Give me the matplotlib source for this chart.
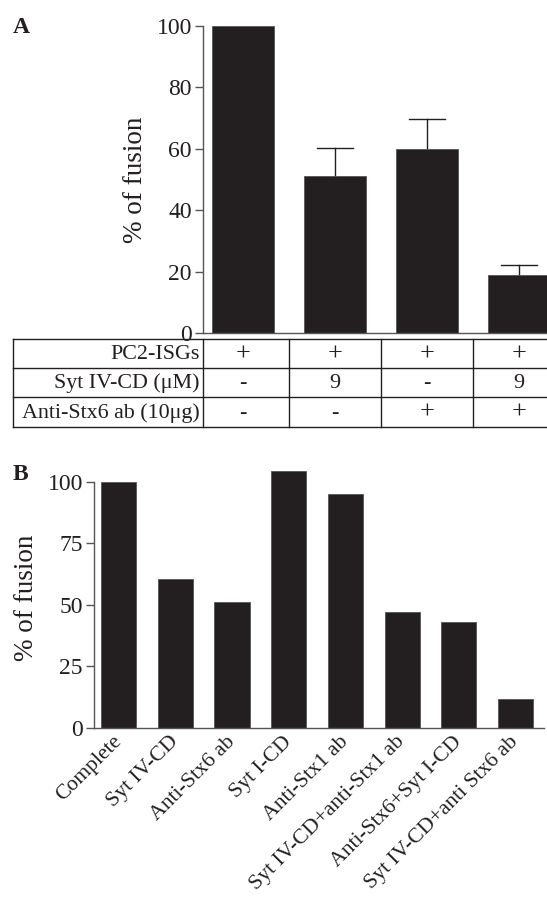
import matplotlib
matplotlib.use("Agg")
import matplotlib.pyplot as plt
import numpy as np

plt.rcParams['font.family'] = ['Liberation Serif', 'DejaVu Serif']

dark = '#231f20'

# panel A data
a_values = [100, 51.1, 60.0, 18.8]
a_errors = [0, 9.1, 9.6, 3.2]
row_labels = ['PC2-ISGs', 'Syt IV-CD (\u03bcM)', 'Anti-Stx6 ab (10\u03bcg)']
row_cells = [['+', '+', '+', '+'],
             ['-', '9', '-', '9'],
             ['-', '-', '+', '+']]

# panel B data
b_labels = ['Complete', 'Syt IV-CD', 'Anti-Stx6 ab', 'Syt I-CD', 'Anti-Stx1 ab',
            'Syt IV-CD+anti-Stx1 ab', 'Anti-Stx6+Syt I-CD', 'Syt IV-CD+anti Stx6 ab']
b_values = [100, 60.6, 51.3, 104.5, 95.2, 47.3, 43.1, 11.9]

W, H = 547, 898
fig = plt.figure(figsize=(W / 100, H / 100), dpi=100)

def px_axes(x0, y0, x1, y1):
    # pixel box (top-left origin) -> figure axes
    return fig.add_axes([x0 / W, (H - y1) / H, (x1 - x0) / W, (y1 - y0) / H])

# ---------- panel A ----------
axA = px_axes(203, 26, 552, 333)
xa = np.arange(len(a_values))
axA.bar(xa, a_values, width=0.674, color=dark, edgecolor='#555555', linewidth=0.6, zorder=2)
for x, v, e in zip(xa, a_values, a_errors):
    if e > 0:
        axA.plot([x, x], [v, v + e], color=dark, lw=1.0, zorder=1)
        axA.plot([x - 0.2, x + 0.2], [v + e, v + e], color=dark, lw=1.0, zorder=1)
axA.set_xlim(-0.435, 3.36)
axA.set_ylim(0, 100)
axA.set_yticks([0, 20, 40, 60, 80, 100])
axA.set_xticks([])
for s in ['top', 'right']:
    axA.spines[s].set_visible(False)
for s in ['left', 'bottom']:
    axA.spines[s].set_color('#555555')
    axA.spines[s].set_linewidth(1.0)
axA.tick_params(axis='y', direction='out', length=6, width=1, color='#555555',
                labelsize=17, pad=2, labelcolor=dark)
axA.set_ylabel('% of fusion', fontsize=19.5, color=dark, labelpad=6)
fig.text(13 / W, 1 - 33 / H, 'A', fontsize=17, fontweight='bold', color=dark)

# ---------- table under panel A ----------
axT = px_axes(13, 339, 552, 428)
axT.set_xlim(-2.5, 3.36)
axT.set_ylim(428, 339)
axT.axis('off')
row_lines = [339, 368, 397, 427]
for y in row_lines:
    axT.plot([-2.5, 3.36], [y, y], color=dark, lw=1.0, clip_on=False)
for x in [-2.5, -0.435, 0.5, 1.5, 2.5]:
    axT.plot([x, x], [339, 427], color=dark, lw=1.0, clip_on=False)
for r, (lab, cells) in enumerate(zip(row_labels, row_cells)):
    yc = (row_lines[r] + row_lines[r + 1]) / 2 + 1
    axT.text(-0.47, yc, lab, ha='right', va='center', fontsize=15.8, color=dark)
    for x, c in zip(xa, cells):
        axT.text(x, yc, c, ha='center', va='center',
                 fontsize=19 if c == '+' else 16, color=dark)

# ---------- panel B ----------
axB = px_axes(94, 467, 544, 728)
xb = np.arange(len(b_values))
axB.bar(xb, b_values, width=0.62, color=dark, edgecolor='#555555', linewidth=0.6)
axB.set_xlim(-0.432, 7.5)
axB.set_ylim(0, 106)
axB.set_yticks([0, 25, 50, 75, 100])
axB.spines['left'].set_bounds(0, 100)
for s in ['top', 'right']:
    axB.spines[s].set_visible(False)
for s in ['left', 'bottom']:
    axB.spines[s].set_color('#555555')
    axB.spines[s].set_linewidth(1.0)
axB.tick_params(axis='y', direction='out', length=6, width=1, color='#555555',
                labelsize=17, pad=2, labelcolor=dark)
axB.set_xticks(xb)
axB.set_xticklabels(b_labels, rotation=45, ha='right', va='center',
                    rotation_mode='anchor', fontsize=15.6, color=dark)
axB.tick_params(axis='x', length=0, pad=8)
axB.set_ylabel('% of fusion', fontsize=19.5, color=dark, labelpad=6)
fig.text(13 / W, 1 - 480 / H, 'B', fontsize=17, fontweight='bold', color=dark)

fig.savefig('out.png', dpi=100)
